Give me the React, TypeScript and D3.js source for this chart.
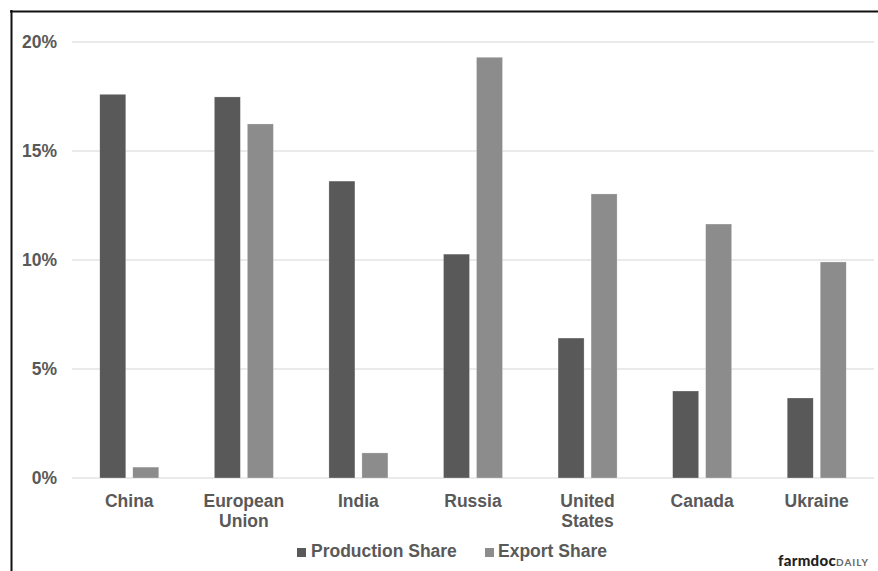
import React from "react";
import * as d3 from "d3";

const categories: string[][] = [
  ["China"],
  ["European", "Union"],
  ["India"],
  ["Russia"],
  ["United", "States"],
  ["Canada"],
  ["Ukraine"],
];
const seriesNames = ["Production Share", "Export Share"];
const productionShare = [17.6, 17.48, 13.62, 10.27, 6.42, 3.99, 3.67];
const exportShare = [0.5, 16.24, 1.15, 19.3, 13.03, 11.65, 9.91];
const yTicks = [0, 5, 10, 15, 20];
const colors = ["#595959", "#8c8c8c"];

const W = 878;
const H = 571;
const FONT = "'Liberation Sans', Arial, sans-serif";

export default function App() {
  const keys = categories.map((c) => c.join(" "));
  const x0 = d3
    .scaleBand<string>()
    .domain(keys)
    .range([72, 874])
    .paddingInner(0.485)
    .paddingOuter(0.2425);
  const x1 = d3
    .scaleBand<string>()
    .domain(seriesNames)
    .range([0, x0.bandwidth()])
    .paddingInner(0.212);
  const y = d3.scaleLinear().domain([0, 20]).range([478, 42]);
  const series = [productionShare, exportShare];

  return (
    <svg
      width={W}
      height={H}
      style={{ position: "absolute", left: 0, top: 0, background: "#fff" }}
      fontFamily={FONT}
    >
      <rect x={0} y={0} width={W} height={H} fill="#fff" />
      {/* frame */}
      <line x1={10} x2={W} y1={11.5} y2={11.5} stroke="#111" strokeWidth={2} />
      <line x1={11.5} x2={11.5} y1={10} y2={H} stroke="#111" strokeWidth={2} />

      {/* gridlines + y labels */}
      {yTicks.map((t) => (
        <g key={t}>
          <line
            x1={72}
            x2={874}
            y1={y(t)}
            y2={y(t)}
            stroke="#e3e3e3"
            strokeWidth={1.5}
          />
          <text
            x={57}
            y={y(t) + 6}
            textAnchor="end"
            fontSize={17.5}
            fontWeight="bold"
            fill="#595959"
          >
            {t}%
          </text>
        </g>
      ))}

      {/* bars */}
      {keys.map((k, i) => (
        <g key={k} transform={`translate(${x0(k)},0)`}>
          {series.map((vals, s) => (
            <rect
              key={s}
              x={x1(seriesNames[s])}
              y={y(vals[i])}
              width={x1.bandwidth()}
              height={y(0) - y(vals[i])}
              fill={colors[s]}
              stroke="#ffffff"
              strokeOpacity={0.5}
              strokeWidth={0.5}
            />
          ))}
        </g>
      ))}

      {/* category labels */}
      {categories.map((lines, i) => {
        const cx = (x0(keys[i]) as number) + x0.bandwidth() / 2;
        return (
          <text
            key={keys[i]}
            x={cx}
            y={507}
            textAnchor="middle"
            fontSize={17.5}
            fontWeight="bold"
            fill="#595959"
          >
            {lines.map((l, j) => (
              <tspan key={j} x={cx} dy={j === 0 ? 0 : 20}>
                {l}
              </tspan>
            ))}
          </text>
        );
      })}

      {/* legend */}
      <rect x={297} y={548} width={9} height={9} fill={colors[0]} />
      <text x={311} y={557} fontSize={17.5} fontWeight="bold" fill="#595959">
        {seriesNames[0]}
      </text>
      <rect x={485} y={548} width={9} height={9} fill={colors[1]} />
      <text x={498} y={557} fontSize={17.5} fontWeight="bold" fill="#595959">
        {seriesNames[1]}
      </text>

      {/* logo */}
      <text x={778} y={566} fontFamily="Lato, 'DejaVu Sans', sans-serif">
        <tspan fontSize={15} fontWeight={900} fill="#222" letterSpacing={0.3}>
          farmdoc
        </tspan>
        <tspan fontSize={10} fontWeight={700} fill="#666" letterSpacing={1}>
          DAILY
        </tspan>
      </text>
    </svg>
  );
}
